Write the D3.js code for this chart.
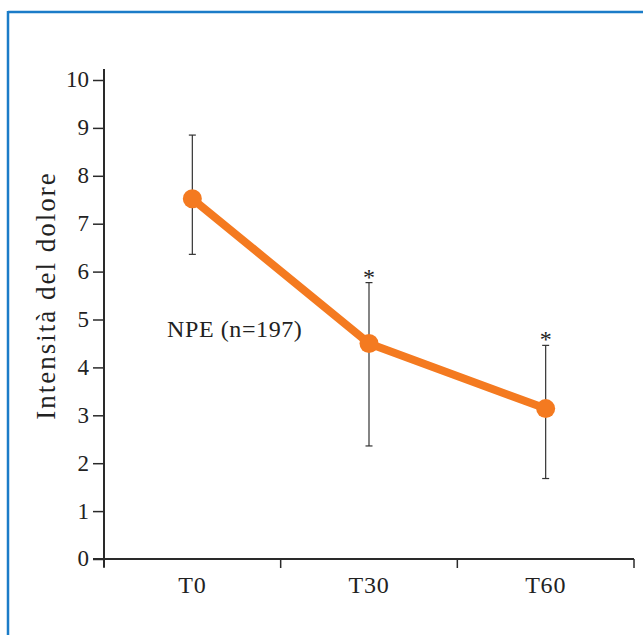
<!DOCTYPE html>
<html><head><meta charset="utf-8">
<script src="https://cdn.jsdelivr.net/npm/d3@7"></script>
<style>body{margin:0;background:#fff}svg{display:block}</style>
</head><body>
<script>
const categories = ["T0", "T30", "T60"];
const means = [7.52, 4.50, 3.14];
const upper = [8.85, 5.77, 4.46];
const lower = [6.36, 2.36, 1.68];
const significant = [false, true, true];
const yTicks = [0,1,2,3,4,5,6,7,8,9,10];
const yLabel = "Intensità del dolore";
const seriesLabel = "NPE (n=197)";

const W = 643, H = 635;
const font = "'Liberation Serif', 'DejaVu Serif', serif";
const svg = d3.select("body").append("svg").attr("width", W).attr("height", H);

// frame (top and left blue rules)
svg.append("line").attr("x1", 8).attr("x2", W).attr("y1", 12).attr("y2", 12)
  .attr("stroke", "#1b7cc8").attr("stroke-width", 2.5);
svg.append("line").attr("x1", 8).attr("x2", 8).attr("y1", 11).attr("y2", H)
  .attr("stroke", "#1b7cc8").attr("stroke-width", 2.5);

const x0 = 104, x1 = 634, yTop = 80, yBot = 559;
const x = d3.scaleBand().domain(categories).range([x0, x1]);
const y = d3.scaleLinear().domain([0, 10]).range([yBot, yTop]);

const axisColor = "#2a2a2a";
// y axis
const gy = svg.append("g").attr("transform", `translate(${x0},0)`)
  .call(d3.axisLeft(y).tickValues(yTicks).tickSize(11).tickPadding(4).tickFormat(d3.format("d")));
gy.select(".domain").remove();
gy.selectAll(".tick line").attr("stroke", axisColor).attr("stroke-width", 1.5);
gy.selectAll(".tick text").attr("font-family", font).attr("font-size", 23).attr("fill", "#222")
  .attr("dy", "0.3em");
svg.append("line").attr("x1", x0).attr("x2", x0).attr("y1", 69).attr("y2", yBot + 8)
  .attr("stroke", axisColor).attr("stroke-width", 2);

// x axis
const gx = svg.append("g").attr("transform", `translate(0,${yBot})`);
gx.append("line").attr("x1", x0 - 11).attr("x2", x1).attr("y1", 0).attr("y2", 0)
  .attr("stroke", axisColor).attr("stroke-width", 2);
const bounds = [x0].concat(categories.map(c => x(c) + x.bandwidth()));
gx.selectAll("line.tk").data(bounds).enter().append("line").attr("class", "tk")
  .attr("x1", d => d).attr("x2", d => d).attr("y1", 0).attr("y2", 9)
  .attr("stroke", axisColor).attr("stroke-width", 1.5);
gx.selectAll("text").data(categories).enter().append("text")
  .attr("x", d => x(d) + x.bandwidth() / 2).attr("y", 34)
  .attr("text-anchor", "middle").attr("font-family", font).attr("font-size", 24).attr("fill", "#222")
  .style("letter-spacing", "0.8px")
  .text(d => d);

// y label
svg.append("text").attr("transform", `translate(55,${y(5.5)}) rotate(-90)`)
  .attr("text-anchor", "middle").attr("font-family", font).attr("font-size", 27).attr("fill", "#222")
  .style("letter-spacing", "2px")
  .text(yLabel);

const cx = i => x(categories[i]) + x.bandwidth() / 2;

// error bars
const eb = svg.append("g").attr("stroke", "#333").attr("stroke-width", 1.2);
categories.forEach((c, i) => {
  eb.append("line").attr("x1", cx(i)).attr("x2", cx(i)).attr("y1", y(upper[i])).attr("y2", y(lower[i]));
  [upper[i], lower[i]].forEach(v => eb.append("line")
    .attr("x1", cx(i) - 3.5).attr("x2", cx(i) + 3.5).attr("y1", y(v)).attr("y2", y(v)));
  if (significant[i]) {
    svg.append("text").attr("x", cx(i)).attr("y", y(upper[i]) + 2)
      .attr("text-anchor", "middle").attr("font-family", font).attr("font-size", 24).attr("fill", "#222")
      .text("*");
  }
});

// line
const orange = "#f47a20";
svg.append("path").datum(means)
  .attr("d", d3.line().x((d, i) => cx(i)).y(d => y(d)))
  .attr("fill", "none").attr("stroke", orange).attr("stroke-width", 8).attr("stroke-linejoin", "round");
svg.selectAll("circle.pt").data(means).enter().append("circle").attr("class", "pt")
  .attr("cx", (d, i) => cx(i)).attr("cy", d => y(d)).attr("r", 9.5).attr("fill", orange);

// series label
svg.append("text").attr("x", 167).attr("y", 337).attr("font-family", font).attr("font-size", 24)
  .attr("fill", "#222").style("letter-spacing", "0.6px").text(seriesLabel);
</script>
</body></html>
